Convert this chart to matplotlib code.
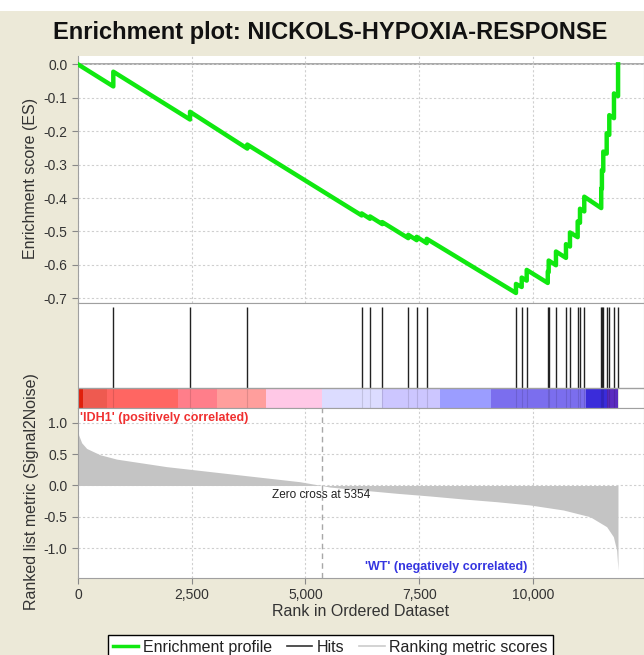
import matplotlib
matplotlib.use("Agg")
from matplotlib import pyplot as plt
from matplotlib.lines import Line2D
from matplotlib.patches import Rectangle

plt.rcParams['font.family'] = ['Liberation Sans', 'DejaVu Sans']
plt.rcParams['axes.unicode_minus'] = False

# ---------------------------------------------------------------------------
# Data
# ---------------------------------------------------------------------------
title = "Enrichment plot: NICKOLS-HYPOXIA-RESPONSE"
zero_cross = 5354

# positions of the gene-set members in the ranked list
hit_ranks = [776, 2462, 3721, 6235, 6418, 6688, 7259, 7444, 7664,
             9626, 9752, 9862, 10325, 10345, 10505, 10725, 10813, 10982,
             11033, 11127, 11500, 11515, 11545, 11620, 11677, 11780, 11870]

# running enrichment score (vertices of the green profile)
es_rank = [0, 776, 776, 2462, 2462, 3721, 3721, 6235, 6235, 6418, 6418,
           6688, 6688, 7259, 7259, 7444, 7444, 7664, 7664, 9626, 9626,
           9752, 9752, 9862, 9862, 10325, 10325, 10345, 10345, 10505, 10505,
           10725, 10725, 10813, 10813, 10982, 10982, 11033, 11033, 11127, 11127,
           11500, 11500, 11515, 11515, 11545, 11545, 11620, 11620, 11677, 11677,
           11780, 11780, 11870, 11870]
es_value = [0.0, -0.066, -0.022, -0.165, -0.142, -0.252, -0.240, -0.452, -0.446,
            -0.462, -0.455, -0.478, -0.472, -0.520, -0.510, -0.526, -0.516,
            -0.535, -0.522, -0.684, -0.657, -0.666, -0.638, -0.647, -0.615,
            -0.654, -0.620, -0.622, -0.587, -0.601, -0.560, -0.579, -0.538,
            -0.545, -0.503, -0.517, -0.470, -0.474, -0.432, -0.440, -0.396,
            -0.430, -0.371, -0.372, -0.316, -0.319, -0.261, -0.267, -0.206,
            -0.211, -0.152, -0.161, -0.087, -0.095, 0.0]

# ranked list metric (Signal2Noise), sampled along the list
metric_rank = [0, 81, 190, 483, 850, 1216, 1949, 2681, 3414, 4147, 4879,
               5354, 5538, 6271, 7004, 7736, 8469, 9201, 9934, 10666, 11253,
               11619, 11766, 11839, 11868]
metric_value = [0.83, 0.68, 0.59, 0.49, 0.42, 0.38, 0.30, 0.24, 0.18, 0.12,
                0.06, 0.0, -0.025, -0.075, -0.124, -0.167, -0.215, -0.258,
                -0.31, -0.39, -0.497, -0.656, -0.815, -1.03, -1.35]

# colour bar under the hits
bar_edges = [0, 100, 631, 2205, 3048, 4132, 5354, 6675, 7956, 9077, 11165,
             11626, 11875]
bar_colors = ['#E0200C', '#EE5A50', '#FF6662', '#FF7E8A', '#FF9E9C',
              '#FFC8E6', '#DCDCFF', '#CCC6FF', '#9B9DFF', '#7B6EEE',
              '#3A2CDA', '#5A2AC0']

es_ticks = [0.0, -0.1, -0.2, -0.3, -0.4, -0.5, -0.6, -0.7]
metric_ticks = [1.0, 0.5, 0.0, -0.5, -1.0]
rank_ticks = [0, 2500, 5000, 7500, 10000]
rank_ticklabels = ['0', '2,500', '5,000', '7,500', '10,000']

# ---------------------------------------------------------------------------
W, H = 644, 655
beige = '#ECE9D8'
spine_col = '#A0A0A0'
grid_kw = dict(color='#CFCFCF', linestyle=(0, (2, 2)), linewidth=0.8)

fig = plt.figure(figsize=(W / 100, H / 100), dpi=100, facecolor=beige)
fig.patches.append(Rectangle((0, 1 - 11 / H), 1, 11 / H, transform=fig.transFigure,
                             facecolor='white', edgecolor='none'))

left = 78 / W
ax_es = fig.add_axes([left, 1 - 303 / H, 1 - left, 247 / H])
ax_hit = fig.add_axes([left, 1 - 408 / H, 1 - left, 105 / H])
ax_rk = fig.add_axes([left, 1 - 578 / H, 1 - left, 170 / H])

xmax = 12440
for ax in (ax_es, ax_hit, ax_rk):
    ax.set_xlim(0, xmax)
    ax.set_xticks(rank_ticks)
    for sp in ax.spines.values():
        sp.set_color(spine_col)
    ax.tick_params(colors='#888888', labelcolor='#333333', labelsize=10, length=4)

# --- enrichment score panel
ax_es.axhline(0, color='#999999', lw=1.2, zorder=1)
ax_es.plot(es_rank, es_value, color='#10E810', lw=3.2, zorder=3)
ax_es.set_ylim(-0.714, 0.025)
ax_es.set_yticks(es_ticks)
ax_es.set_yticklabels([f"{t:.1f}" for t in es_ticks])
ax_es.grid(True, **grid_kw)
ax_es.tick_params(axis='x', length=0, labelbottom=False)
ax_es.spines['top'].set_visible(False)

# --- hits + colour bar panel
ax_hit.set_ylim(0, 1)
ax_hit.set_yticks([])
ax_hit.tick_params(axis='x', length=0, labelbottom=False)
widths = [b - a for a, b in zip(bar_edges[:-1], bar_edges[1:])]
ax_hit.bar(bar_edges[:-1], 0.19, width=widths, bottom=0, align='edge',
           color=bar_colors, linewidth=0)
ax_hit.vlines(hit_ranks, 0.19, 0.962, color='#222222', lw=1.0)
ax_hit.vlines(hit_ranks, 0.0, 0.19, color='#000000', lw=0.8, alpha=0.12)
ax_hit.axhline(0.19, color=spine_col, lw=1)

# --- ranked list metric panel
ax_rk.fill_between(metric_rank, 0, metric_value, color='#C4C4C4', lw=0, zorder=2)
ax_rk.axvline(zero_cross, color='#A8A8A8', lw=1, linestyle=(0, (4, 3)), zorder=3)
ax_rk.set_ylim(-1.473, 1.234)
ax_rk.set_yticks(metric_ticks)
ax_rk.set_yticklabels([f"{t:.1f}" for t in metric_ticks])
ax_rk.set_xticklabels(rank_ticklabels)
ax_rk.grid(True, **grid_kw)
ax_rk.set_axisbelow(True)
ax_rk.text(44, 1.075, "'IDH1' (positively correlated)", color='#F03030',
           fontsize=9, fontweight='bold', ha='left', va='center')
ax_rk.text(8090, -1.29, "'WT' (negatively correlated)", color='#3535E0',
           fontsize=9, fontweight='bold', ha='center', va='center')
ax_rk.text(zero_cross, -0.15, "Zero cross at %d" % zero_cross, color='#222222',
           fontsize=8.5, ha='center', va='center')

# --- labels
fig.text(0.512, 1 - 33 / H, title, ha='center', va='center',
         fontsize=17, fontweight='bold', color='#111111')
fig.text(31 / W, 1 - 178 / H, "Enrichment score (ES)", rotation=90,
         ha='center', va='center', fontsize=11.5, color='#333333')
fig.text(32 / W, 1 - 492 / H, "Ranked list metric (Signal2Noise)", rotation=90,
         ha='center', va='center', fontsize=11.5, color='#333333')
fig.text(361 / W, 1 - 612 / H, "Rank in Ordered Dataset",
         ha='center', va='center', fontsize=11.5, color='#333333')

handles = [Line2D([], [], color='#10E810', lw=2.5),
           Line2D([], [], color='#333333', lw=1.2),
           Line2D([], [], color='#CCCCCC', lw=1.2)]
labels = ['Enrichment profile', 'Hits', 'Ranking metric scores']
leg = fig.legend(handles, labels, loc='upper left',
                 bbox_to_anchor=(108 / W, 1 - 635 / H), ncol=3,
                 frameon=True, fancybox=False, edgecolor='black',
                 facecolor='white', framealpha=1, fontsize=11.5,
                 handlelength=1.6, handletextpad=0.3, columnspacing=0.9,
                 borderpad=0.3, borderaxespad=0)
leg.get_frame().set_linewidth(1.0)
for t in leg.get_texts():
    t.set_color('#222222')

fig.savefig("out.png", dpi=100, facecolor=beige)
